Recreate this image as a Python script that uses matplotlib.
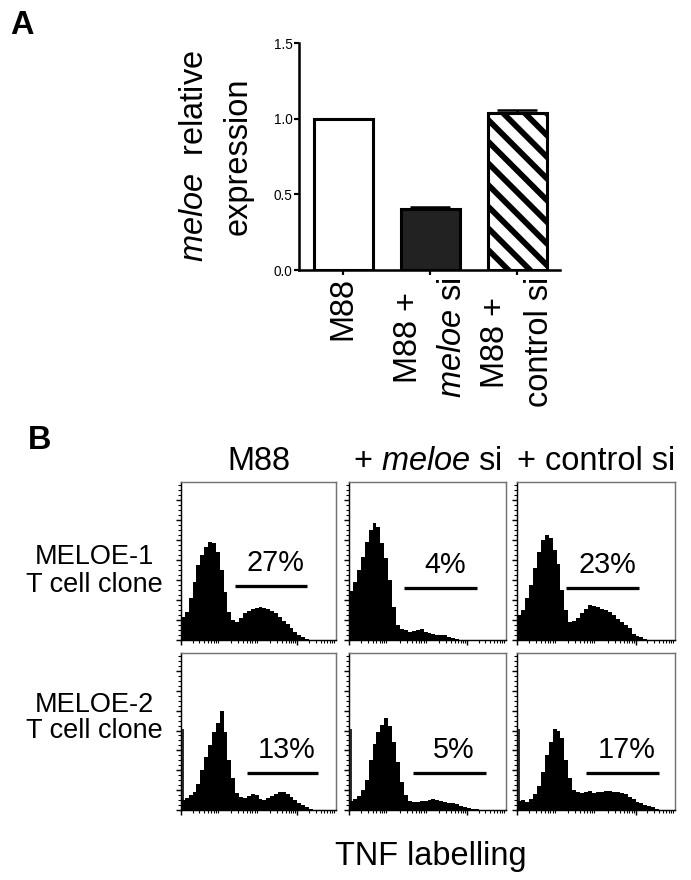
import numpy as np
import matplotlib
matplotlib.use('Agg')
import matplotlib.pyplot as plt
from matplotlib.ticker import MultipleLocator, LogLocator, NullFormatter, FormatStrFormatter

plt.rcParams['font.family'] = ['Liberation Sans', 'DejaVu Sans']
plt.rcParams['mathtext.fontset'] = 'custom'
plt.rcParams['mathtext.rm'] = 'Liberation Sans'
plt.rcParams['mathtext.it'] = 'Liberation Sans:italic'
plt.rcParams['hatch.linewidth'] = 3.2

# --- Panel A: meloe relative expression ---
groups = ['M88', 'M88 +\n$\\it{meloe}$ si', 'M88 +\ncontrol si']
expression = [1.00, 0.40, 1.04]
expression_err = [0.0, 0.013, 0.02]

# --- Panel B: TNF labelling histograms (0.1-decade bins, 10^0 .. 10^4) ---
columns = ['M88', '+ $\\it{meloe}$ si', '+ control si']
clones = ['MELOE-1\nT cell clone', 'MELOE-2\nT cell clone']

meloe1_m88 = [23, 28, 42, 58, 75, 85, 93, 98, 97, 88, 70, 48, 28, 20, 18, 22, 27, 29, 31, 32,
              33, 32, 31, 29, 27, 23, 19, 16, 12, 8, 5, 3, 1, 0, 0, 0, 0, 0, 0, 0]
meloe1_meloe_si = [49, 58, 70, 83, 98, 110, 117, 113, 97, 82, 60, 33, 15, 11, 10, 8, 9, 10, 11, 8,
                   7, 6, 5, 5, 5, 3, 2, 1, 0, 0, 0, 0, 0, 0, 0, 0, 0, 0, 0, 0]
meloe1_control_si = [25, 30, 42, 55, 72, 88, 100, 105, 102, 90, 76, 50, 30, 18, 19, 22, 27, 31, 35, 34,
                     33, 31, 30, 28, 25, 21, 18, 15, 12, 6, 4, 3, 1, 0, 0, 0, 0, 0, 0, 0]
meloe2_m88 = [10, 12, 15, 18, 26, 40, 53, 65, 78, 88, 100, 78, 50, 32, 17, 13, 12, 14, 16, 15,
              11, 10, 12, 14, 16, 18, 18, 16, 13, 10, 7, 5, 3, 1, 0, 0, 0, 0, 0, 0]
meloe2_meloe_si = [9, 11, 14, 20, 30, 50, 66, 78, 86, 93, 85, 68, 48, 28, 15, 9, 8, 8, 9, 9,
                   10, 11, 10, 9, 8, 7, 7, 6, 4, 3, 2, 1, 1, 0, 0, 0, 0, 0, 0, 0]
meloe2_control_si = [9, 10, 8, 11, 16, 24, 38, 55, 68, 82, 80, 72, 50, 32, 20, 18, 17, 18, 19, 17,
                     18, 18, 19, 19, 18, 18, 17, 16, 13, 11, 8, 7, 5, 4, 3, 1, 0, 0, 0, 0]
# events piled up in the first channel (thin spike at the left edge)
first_channel = [0, 82]

# gates and percentages
gate_lo = [[25, 25, 17], [50, 42, 57]]
gate_hi = [[1790, 1790, 1250], [3430, 3050, 3870]]
gate_y = [[54, 52, 52], [37, 37, 37]]
percents = [['27%', '4%', '23%'], ['13%', '5%', '17%']]

hists = [[meloe1_m88, meloe1_meloe_si, meloe1_control_si],
         [meloe2_m88, meloe2_meloe_si, meloe2_control_si]]

W, H = 691, 880
fig = plt.figure(figsize=(W / 130, H / 130), dpi=130)

# ---------- panel A ----------
axA = fig.add_axes([299 / W, 1 - 270 / H, 261 / W, 227 / H])
x = np.arange(len(groups))
bars = axA.bar(x, expression, width=0.67, color=['white', '#222222', 'white'],
               edgecolor='black', linewidth=1.7, zorder=2)
bars[2].set_hatch('\\\\')
axA.errorbar(x, expression, yerr=[[0, 0, 0], expression_err], fmt='none',
             ecolor='black', elinewidth=1.4, capsize=11, capthick=1.4, zorder=3)
axA.set_xlim(-0.51, 2.49)
axA.set_ylim(0, 1.5)
axA.spines['top'].set_visible(False)
axA.spines['right'].set_visible(False)
for s in ['left', 'bottom']:
    axA.spines[s].set_linewidth(1.4)
axA.set_yticks([0, 0.5, 1.0, 1.5])
axA.yaxis.set_major_formatter(FormatStrFormatter('%.1f'))
axA.tick_params(axis='y', length=2.5, width=1.2, pad=1, labelsize=7.5)
axA.set_xticks(x)
axA.set_xticklabels(groups, rotation=90, fontsize=18, linespacing=1.55,
                    multialignment='center')
axA.tick_params(axis='x', length=3, width=1.2, pad=1)
axA.set_ylabel('$\\it{meloe}$  relative\nexpression', fontsize=18, linespacing=1.55)
axA.yaxis.set_label_coords(-0.172, 0.5)

fig.text(22 / W, 1 - 26 / H, 'A', fontsize=18, fontweight='bold', ha='center', va='center')
fig.text(40 / W, 1 - 441 / H, 'B', fontsize=18, fontweight='bold', ha='center', va='center')

# ---------- panel B ----------
edges = 10 ** (np.arange(41) / 10)
col_x = [(181, 155), (349, 157), (517, 158)]
row_y = [(640, 158), (810, 157)]

for r in range(2):
    for c in range(3):
        left, width = col_x[c]
        bottom, height = row_y[r]
        ax = fig.add_axes([left / W, 1 - bottom / H, width / W, height / H])
        ax.stairs(hists[r][c], edges, fill=True, color='black', linewidth=0)
        if first_channel[r]:
            ax.vlines(10 ** 0.06, 0, first_channel[r], color='black', lw=0.9)
        ax.plot([gate_lo[r][c], gate_hi[r][c]], [gate_y[r][c]] * 2, color='black',
                lw=1.8, solid_capstyle='butt')
        mid = np.sqrt(gate_lo[r][c] * gate_hi[r][c])
        ax.annotate(percents[r][c], (mid, gate_y[r][c]), xytext=(2.5, 12.7),
                    textcoords='offset points', ha='center', va='center', fontsize=16)
        ax.set_xscale('log')
        ax.set_xlim(1, 1e4)
        ax.set_ylim(0, 158)
        ax.xaxis.set_major_locator(LogLocator(base=10))
        ax.xaxis.set_minor_locator(LogLocator(base=10, subs=np.arange(2, 10), numticks=20))
        ax.xaxis.set_major_formatter(NullFormatter())
        ax.xaxis.set_minor_formatter(NullFormatter())
        ax.yaxis.set_major_locator(MultipleLocator(20))
        ax.yaxis.set_minor_locator(MultipleLocator(5))
        ax.yaxis.set_major_formatter(NullFormatter())
        ax.tick_params(which='major', length=3.0, width=0.8, direction='out')
        ax.tick_params(which='minor', length=1.8, width=0.6, direction='out')
        for s in ['top', 'right']:
            ax.spines[s].set_color('0.45')
            ax.spines[s].set_linewidth(0.8)
        for s in ['left', 'bottom']:
            ax.spines[s].set_linewidth(0.8)
        if r == 0:
            ax.set_title(columns[c], fontsize=18, pad=6.6)

fig.text(94 / W, 1 - 571 / H, clones[0], fontsize=15, ha='center', va='center',
         linespacing=1.05)
fig.text(94 / W, 1 - 718 / H, clones[1], fontsize=15, ha='center', va='center',
         linespacing=1.05)
fig.text(431 / W, 1 - 857 / H, 'TNF labelling', fontsize=18, ha='center', va='center')

fig.savefig('out.png', dpi=130)
